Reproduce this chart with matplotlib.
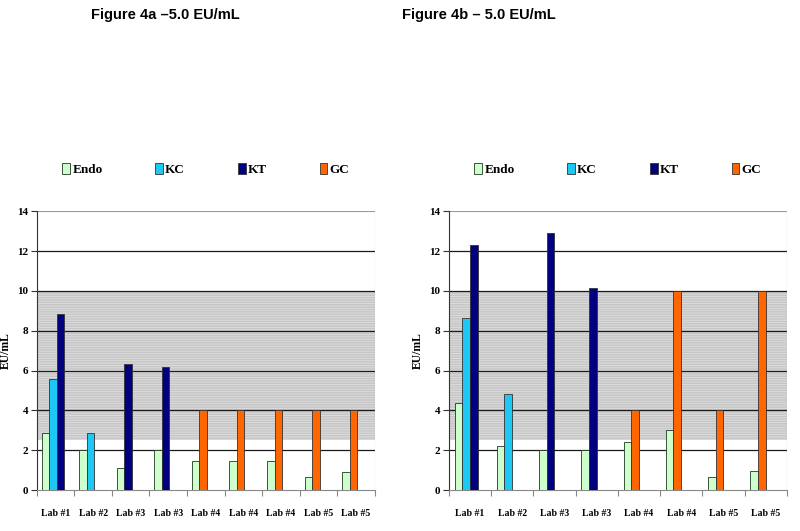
import matplotlib

matplotlib.use("Agg")
import matplotlib.pyplot as plt
import numpy as np

plt.rcParams["hatch.linewidth"] = 0.6

# ── Data ─────────────────────────────────────────────────────────────────────
SERIES = ["Endo", "KC", "KT", "GC"]
COLORS = {"Endo": "#ccffcc", "KC": "#1ec8f5", "KT": "#000080", "GC": "#ff6600"}

LABS_A = ["Lab #1", "Lab #2", "Lab #3", "Lab #3", "Lab #4", "Lab #4", "Lab #4", "Lab #5", "Lab #5"]
ENDO_A = [2.87, 2.0, 1.13, 2.0, 1.45, 1.45, 1.48, 0.63, 0.9]
KC_A = [5.56, 2.87, None, None, None, None, None, None, None]
KT_A = [8.82, None, 6.31, 6.16, None, None, None, None, None]
GC_A = [None, None, None, None, 4.0, 4.0, 4.0, 4.0, 4.0]

LABS_B = ["Lab #1", "Lab #2", "Lab #3", "Lab #3", "Lab #4", "Lab #4", "Lab #5", "Lab #5"]
ENDO_B = [4.38, 2.23, 2.03, 2.0, 2.4, 3.0, 0.63, 0.95]
KC_B = [8.65, 4.8, None, None, None, None, None, None]
KT_B = [12.32, None, 12.92, 10.15, None, None, None, None]
GC_B = [None, None, None, None, 4.0, 10.0, 4.0, 10.0]

BAND = (2.5, 10.0)  # shaded acceptance range
YTICKS = [0, 2, 4, 6, 8, 10, 12, 14]

SERIF = ["Liberation Serif", "DejaVu Serif"]


def draw_panel(ax, labs, data, width, start):
    n = len(labs)
    x = np.arange(n)
    ax.set_xlim(0, n)
    ax.set_ylim(0, 14)

    ax.axhspan(*BAND, facecolor="#c6c6c6", edgecolor="#e0e0e0", hatch="-------",
               linewidth=0, zorder=0)
    for y in YTICKS[1:-1]:
        ax.axhline(y, color="#1a1a1a", linewidth=0.9, zorder=1)
    ax.axhline(14, color="#999999", linewidth=0.8, zorder=1)

    # bars are packed left to right inside each group, skipping missing series
    slot = np.zeros(n, dtype=int)
    for name in SERIES:
        vals = data[name]
        first = next(j for j, w in enumerate(vals) if w is not None)
        for i, v in enumerate(vals):
            if v is None:
                continue
            left = x[i] + start + slot[i] * width
            ax.bar(left, v, width=width, align="edge", color=COLORS[name],
                   edgecolor="#1f3a1f" if name == "Endo" else "#333333",
                   linewidth=0.6, zorder=3, label=name if i == first else None)
            slot[i] += 1

    for s in ["top", "right"]:
        ax.spines[s].set_visible(False)
    ax.spines["left"].set_color("#333333")
    ax.spines["bottom"].set_color("#888888")
    ax.axvline(n, color="#999999", linewidth=0.8, zorder=1)

    ax.set_yticks(YTICKS)
    ax.set_yticklabels([str(t) for t in YTICKS], family=SERIF, fontsize=8, fontweight="bold")
    ax.tick_params(axis="y", length=4, width=0.8, color="#333333", pad=2)

    ax.set_xticks(np.arange(n + 1))
    ax.set_xticklabels([])
    ax.tick_params(axis="x", length=4, width=0.8, color="#888888")
    ax.set_xticks(x + 0.5, minor=True)
    ax.set_xticklabels(labs, minor=True, family=SERIF, fontsize=7, fontweight="bold")
    ax.tick_params(axis="x", which="minor", length=0, pad=14)

    ax.set_ylabel("EU/mL", family=SERIF, fontsize=8.5, fontweight="bold", labelpad=4)

    handles, labels = ax.get_legend_handles_labels()
    order = [labels.index(s) for s in SERIES if s in labels]
    ax.legend([handles[i] for i in order], [labels[i] for i in order],
              loc="center", bbox_to_anchor=(0.5, 1.15), ncol=4, frameon=False,
              handlelength=0.6, handleheight=0.9, handletextpad=0.15,
              columnspacing=4.0, prop={"family": SERIF, "size": 9.5, "weight": "bold"})


fig = plt.figure(figsize=(8.0, 5.31), dpi=100)
fig.patch.set_facecolor("white")

ax_a = fig.add_axes([0.046, 0.0772, 0.4225, 0.525])
ax_b = fig.add_axes([0.561, 0.0772, 0.4225, 0.525])

draw_panel(ax_a, LABS_A, {"Endo": ENDO_A, "KC": KC_A, "KT": KT_A, "GC": GC_A},
           width=0.2, start=0.13)
draw_panel(ax_b, LABS_B, {"Endo": ENDO_B, "KC": KC_B, "KT": KT_B, "GC": GC_B},
           width=0.182, start=0.135)

fig.text(0.207, 0.972, "Figure 4a \u20135.0 EU/mL", ha="center", va="center",
         family=["Liberation Sans", "DejaVu Sans"], fontsize=10.5, fontweight="bold")
fig.text(0.598, 0.972, "Figure 4b \u2013 5.0 EU/mL", ha="center", va="center",
         family=["Liberation Sans", "DejaVu Sans"], fontsize=10.5, fontweight="bold")

fig.savefig("out.png", dpi=100, facecolor="white")
